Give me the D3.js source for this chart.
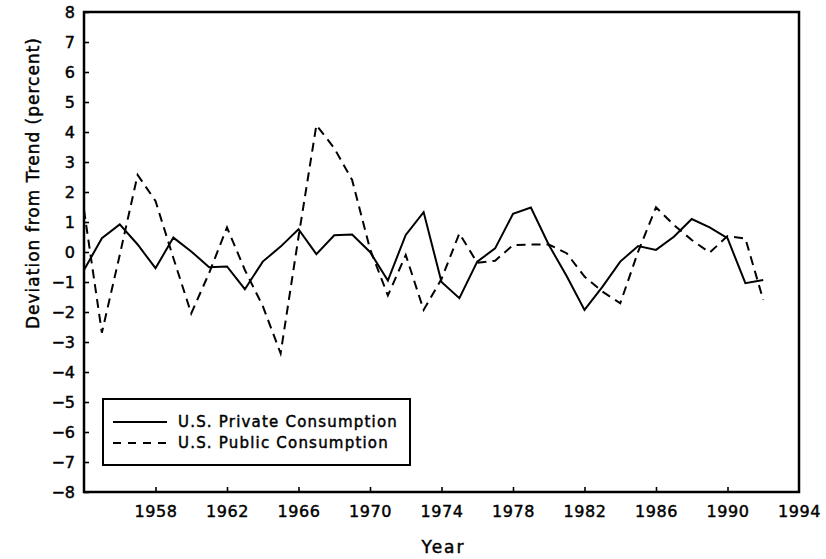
<!DOCTYPE html>
<html>
<head>
<meta charset="utf-8">
<script src="https://cdn.jsdelivr.net/npm/d3@7"></script>
<style>
  body { margin: 0; background: #fff; }
  text { font-family: "DejaVu Sans", sans-serif; fill: #000; stroke: #000; stroke-width: 0.45px; }
</style>
</head>
<body>
<div id="chart"></div>
<script>
// years 1954..1992
const years = d3.range(1954, 1993)
const privateCons = [-0.6, 0.46, 0.92, 0.25, -0.54, 0.48, 0.02, -0.51, -0.48, -1.24,
  -0.32, 0.18, 0.76, -0.07, 0.56, 0.58, 0.0, -0.95, 0.57, 1.33,
  -1.0, -1.54, -0.32, 0.12, 1.27, 1.48, 0.24, -0.8, -1.93, -1.16,
  -0.32, 0.2, 0.07, 0.51, 1.1, 0.82, 0.46, -1.04, -0.93]
const publicCons = [1.4, -2.69, -0.1, 2.57, 1.7, -0.2, -2.05, -0.7, 0.82, -0.6,
  -1.8, -3.38, 0.5, 4.23, 3.46, 2.4, 0.1, -1.45, -0.1, -1.93,
  -0.9, 0.62, -0.36, -0.29, 0.23, 0.25, 0.25, -0.04, -0.82, -1.32,
  -1.71, 0.01, 1.49, 0.9, 0.4, -0.02, 0.53, 0.45, -1.6]
const xTicks = [1958, 1962, 1966, 1970, 1974, 1978, 1982, 1986, 1990, 1994]
const yTicks = d3.range(-8, 9)
const seriesNames = ["U.S. Private Consumption", "U.S. Public Consumption"]

const W = 826, H = 559
const margin = {top: 12, right: 27, bottom: 67, left: 84}
const width = W - margin.left - margin.right
const height = H - margin.top - margin.bottom

const svg = d3.select("#chart").append("svg")
  .attr("width", W).attr("height", H)
const g = svg.append("g")
  .attr("transform", `translate(${margin.left},${margin.top})`)

const x = d3.scaleLinear().domain([1954, 1994]).range([0, width])
const y = d3.scaleLinear().domain([-8, 8]).range([height, 0])

// axes: ticks pointing inward
const fmt = d => d < 0 ? "\u2212" + Math.abs(d) : String(d)
const yAxis = g.append("g")
  .call(d3.axisLeft(y).tickValues(yTicks).tickSize(-5).tickPadding(9).tickFormat(fmt))
const xAxis = g.append("g")
  .attr("transform", `translate(0,${height})`)
  .call(d3.axisBottom(x).tickValues(xTicks).tickSize(-5).tickPadding(14).tickFormat(d3.format("d")))
;[yAxis, xAxis].forEach(a => {
  a.select(".domain").remove()
  a.selectAll(".tick line").attr("stroke", "#000").attr("stroke-width", 1.6)
  a.selectAll(".tick text").style("font-size", "16px")
})
xAxis.selectAll(".tick text").style("letter-spacing", "0.6px")
xAxis.selectAll(".tick").filter(d => d === 1994).select("line").remove()

// frame
g.append("rect")
  .attr("width", width).attr("height", height)
  .attr("fill", "none").attr("stroke", "#000").attr("stroke-width", 2.5)

const line = d3.line()
  .x((d, i) => x(years[i]))
  .y(d => y(d))

g.append("path").datum(privateCons)
  .attr("d", line).attr("fill", "none")
  .attr("stroke", "#000").attr("stroke-width", 2)
g.append("path").datum(publicCons)
  .attr("d", line).attr("fill", "none")
  .attr("stroke", "#000").attr("stroke-width", 2)
  .attr("stroke-dasharray", "9,6")

// legend
const lg = svg.append("g").attr("transform", "translate(103,399)")
lg.append("rect").attr("width", 307).attr("height", 66)
  .attr("fill", "#fff").attr("stroke", "#000").attr("stroke-width", 2)
seriesNames.forEach((name, i) => {
  const yy = 23 + i * 21
  lg.append("line").attr("x1", 10).attr("x2", 64).attr("y1", yy).attr("y2", yy)
    .attr("stroke", "#000").attr("stroke-width", 2)
    .attr("stroke-dasharray", i === 1 ? "8,7" : null)
  lg.append("text").attr("x", 75).attr("y", yy + 5)
    .style("font-size", "15px").style("letter-spacing", "1.2px").text(name)
})

// axis titles
svg.append("text")
  .attr("x", margin.left + x(1974) + 2).attr("y", 553)
  .attr("text-anchor", "middle").style("font-size", "17px")
  .style("letter-spacing", "2px").text("Year")
svg.append("text")
  .attr("transform", "translate(39,183) rotate(-90)")
  .attr("text-anchor", "middle").style("font-size", "17px")
  .style("letter-spacing", "1px")
  .text("Deviation from Trend (percent)")
</script>
</body>
</html>
